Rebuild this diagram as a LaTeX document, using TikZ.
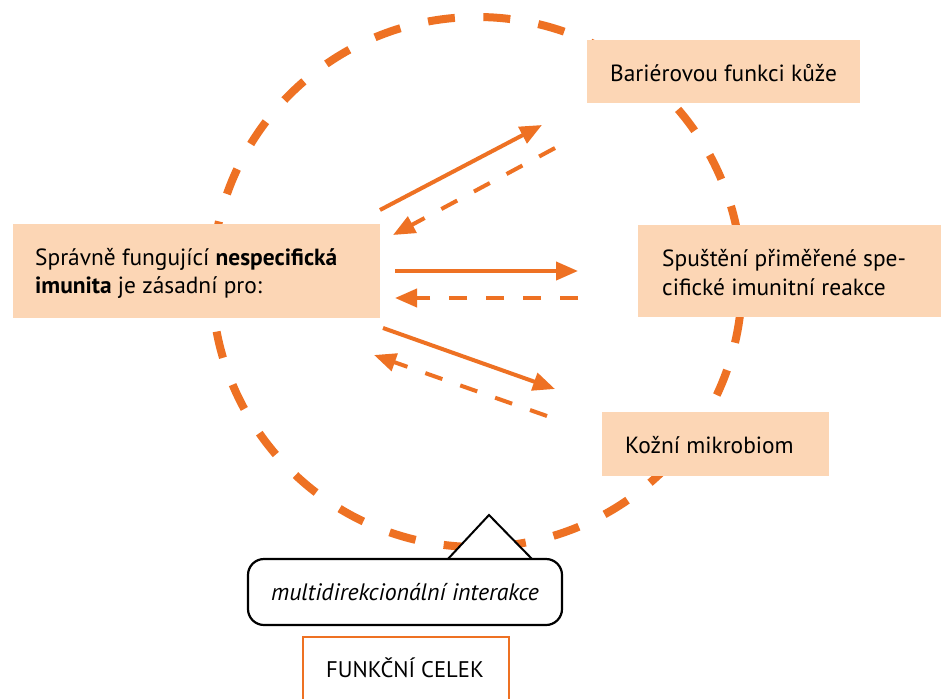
\documentclass[tikz,border=0pt]{standalone}
\usepackage{fontspec}
\setmainfont{PT Sans}
\usetikzlibrary{arrows.meta}
\definecolor{orng}{RGB}{238,113,35}
\definecolor{peach}{RGB}{252,214,181}
\begin{document}
\begin{tikzpicture}[x=1pt,y=-1pt,
  box/.style={fill=peach, draw=none, inner sep=0pt, anchor=north west},
  txt/.style={anchor=base west, inner sep=0pt, font=\fontsize{23.4}{28}\selectfont},
  solidarrow/.style={draw=orng, line width=4pt, -{Triangle[length=22pt,width=18pt,fill=orng]}},
  dasharrow/.style={solidarrow, dash pattern=on 18pt off 19pt},
]
\useasboundingbox (0,0) rectangle (941,698);
\clip (0,0) rectangle (941,698);
\fill[white] (0,0) rectangle (941,698);

% dashed ring
\coordinate (ringc) at (477,282);
\draw[orng, line width=8pt, dash pattern=on 27pt off 28.5pt, dash phase=5.5pt] (ringc) circle[radius=265pt];

% boxes
\node[box, minimum width=367pt, minimum height=94pt] (immbox) at (13,224) {};
\node[txt] (imm1) at (35,265) {Správně fungující \textbf{nespecifická}};
\node[txt] (imm2) at (35,293) {\textbf{imunita} je zásadní pro:};

\node[box, minimum width=273pt, minimum height=63pt] (barbox) at (587,40) {};
\node[txt] (bar) at (610,82) {Bariérovou funkci kůže};

\node[box, minimum width=303pt, minimum height=92pt] (specbox) at (638,225) {};
\node[txt] (spec1) at (662,266) {Spuštění přiměřené spe-};
\node[txt] (spec2) at (662,295) {cifické imunitní reakce};

\node[box, minimum width=227pt, minimum height=64pt] (mikbox) at (602,412) {};
\node[txt] (mik) at (625,453) {Kožní mikrobiom};

% arrows
\coordinate (s1a) at (380,210); \coordinate (s1b) at (542,125);
\coordinate (d1a) at (555,148); \coordinate (d1b) at (393,235);
\coordinate (s2a) at (395,271); \coordinate (s2b) at (578,271);
\coordinate (d2a) at (578,298); \coordinate (d2b) at (395,298);
\coordinate (s3a) at (383,328); \coordinate (s3b) at (555,389);
\coordinate (d3a) at (547,416); \coordinate (d3b) at (374,355);
\draw[solidarrow] (s1a) -- (s1b);
\draw[dasharrow] (d1a) -- (d1b);
\draw[solidarrow] (s2a) -- (s2b);
\draw[dasharrow] (d2a) -- (d2b);
\draw[solidarrow] (s3a) -- (s3b);
\draw[dasharrow] (d3a) -- (d3b);

% callout
\coordinate (tipc) at (489,515);
\coordinate (tl) at (447,560);
\coordinate (tr) at (533,560);
\draw[black, line width=2pt, fill=white, line join=miter] (tl) -- (tipc) -- (tr);
\node[draw=black, line width=2.2pt, fill=white, rounded corners=16pt, inner sep=0pt,
      minimum width=314pt, minimum height=66pt] (multi) at (405,592) {};
\node[anchor=base, inner sep=0pt, font=\fontsize{23.8}{28}\selectfont\itshape] (multitxt) at (405,600) {multidirekcionální interakce};

% functional whole
\node[draw=orng, line width=2pt, fill=white, inner sep=0pt, anchor=north west,
      minimum width=206pt, minimum height=90pt] (celekbox) at (302,636) {};
\node[anchor=base, inner sep=0pt, font=\fontsize{22.6}{26}\selectfont] (celek) at (405,677) {FUNKČNÍ CELEK};
\end{tikzpicture}
\end{document}
